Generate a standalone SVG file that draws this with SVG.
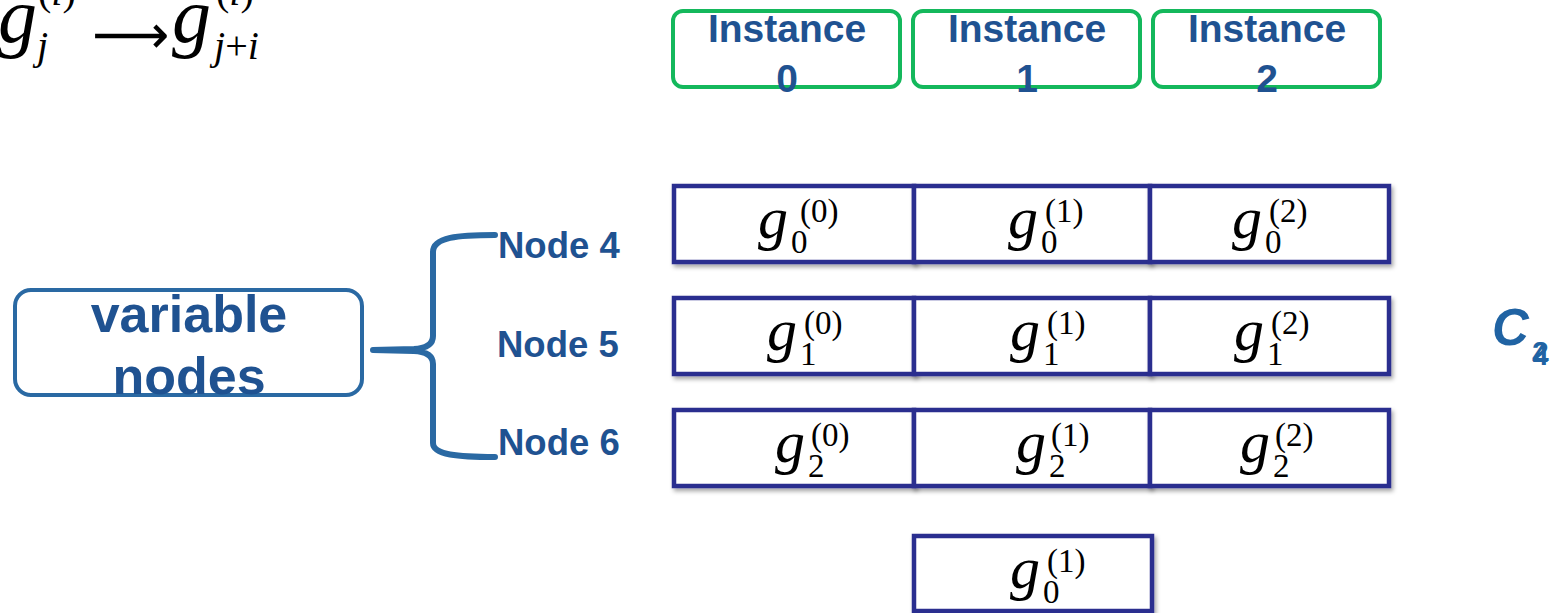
<svg xmlns="http://www.w3.org/2000/svg" width="1559" height="613" viewBox="0 0 1559 613">
  <defs>
    <filter id="shadow" x="-5%" y="-10%" width="110%" height="130%">
      <feDropShadow dx="2" dy="3" stdDeviation="2" flood-color="#000" flood-opacity="0.35"/>
    </filter>
    <style>
      .inst { fill: #fff; stroke: #14b85c; stroke-width: 4; }
      .cell { fill: #fff; stroke: #2c2e8f; stroke-width: 4.5; }
      .lbl { font-family: "Liberation Sans", Arial, sans-serif; font-weight: bold; fill: #1f5291; }
      .math { font-family: "Liberation Serif", "Times New Roman", serif; fill: #000; }
      .g { font-style: italic; font-size: 60px; }
      .idx { font-size: 33px; }
      .brace { fill: none; stroke: #2a69a3; stroke-width: 6; stroke-linecap: round; stroke-linejoin: round; }
    </style>
  </defs>
  <rect width="1559" height="613" fill="#fff"/>

  <!-- index shift rule -->
  <g id="rule" class="math">
    <text x="-2" y="42" class="g" style="font-size:78px">g</text>
    <text x="38" y="5" class="idx" style="font-size:40px">(<tspan font-style="italic">i</tspan>)</text>
    <text x="37" y="59" class="idx" font-style="italic" style="font-size:40px">j</text>
    <text x="92" y="53" style="font-family:'DejaVu Sans',sans-serif;font-size:54px">⟶</text>
    <text x="172" y="42" class="g" style="font-size:78px">g</text>
    <text x="216" y="5" class="idx" style="font-size:40px">(<tspan font-style="italic">i</tspan>)</text>
    <text x="214" y="59" class="idx" style="font-size:40px"><tspan font-style="italic">j</tspan>+<tspan font-style="italic">i</tspan></text>
  </g>

  <!-- instance headers -->
  <g id="instance-0">
    <rect class="inst" x="673" y="11" width="227" height="76" rx="10"/>
    <text class="lbl" x="787" y="42" font-size="39" text-anchor="middle">Instance</text>
    <text class="lbl" x="787" y="92" font-size="39" text-anchor="middle">0</text>
  </g>
  <g id="instance-1">
    <rect class="inst" x="913" y="11" width="227" height="76" rx="10"/>
    <text class="lbl" x="1027" y="42" font-size="39" text-anchor="middle">Instance</text>
    <text class="lbl" x="1027" y="92" font-size="39" text-anchor="middle">1</text>
  </g>
  <g id="instance-2">
    <rect class="inst" x="1153" y="11" width="227" height="76" rx="10"/>
    <text class="lbl" x="1267" y="42" font-size="39" text-anchor="middle">Instance</text>
    <text class="lbl" x="1267" y="92" font-size="39" text-anchor="middle">2</text>
  </g>

  <!-- variable nodes label -->
  <g id="variable-nodes">
    <rect x="15" y="290" width="347" height="105" rx="16" fill="#fff" stroke="#2a69a3" stroke-width="4"/>
    <text class="lbl" x="189" y="332" font-size="52" text-anchor="middle">variable</text>
    <text class="lbl" x="189" y="394" font-size="52" text-anchor="middle">nodes</text>
  </g>

  <!-- brace connecting the label to its nodes -->
  <g id="connectors">
    <path class="brace" d="M495,235 C458,235 433,237 433,252 L433,336 Q433,348 414,349 L373,350 M373,350 L414,351 Q433,352 433,364 L433,443 C433,455 458,457 495,457"/>
  </g>

  <g id="node-4"><text class="lbl" x="498" y="258" font-size="36.5">Node 4</text></g>
  <g id="node-5"><text class="lbl" x="497" y="357" font-size="36.5">Node 5</text></g>
  <g id="node-6"><text class="lbl" x="498" y="455" font-size="36.5">Node 6</text></g>

  <!-- row of variable node 4 -->
  <g id="cell-0-0" filter="url(#shadow)">
    <rect class="cell" x="674" y="186" width="240" height="76"/>
  </g>
  <g id="cell-0-1" filter="url(#shadow)">
    <rect class="cell" x="914" y="186" width="236" height="76"/>
  </g>
  <g id="cell-0-2" filter="url(#shadow)">
    <rect class="cell" x="1150" y="186" width="239" height="76"/>
  </g>
  <!-- row of variable node 5 -->
  <g id="cell-1-0" filter="url(#shadow)">
    <rect class="cell" x="674" y="298" width="240" height="76"/>
  </g>
  <g id="cell-1-1" filter="url(#shadow)">
    <rect class="cell" x="914" y="298" width="236" height="76"/>
  </g>
  <g id="cell-1-2" filter="url(#shadow)">
    <rect class="cell" x="1150" y="298" width="239" height="76"/>
  </g>
  <!-- row of variable node 6 -->
  <g id="cell-2-0" filter="url(#shadow)">
    <rect class="cell" x="674" y="410" width="240" height="76"/>
  </g>
  <g id="cell-2-1" filter="url(#shadow)">
    <rect class="cell" x="914" y="410" width="236" height="76"/>
  </g>
  <g id="cell-2-2" filter="url(#shadow)">
    <rect class="cell" x="1150" y="410" width="239" height="76"/>
  </g>
  <!-- shifted copy -->
  <g id="cell-shift" filter="url(#shadow)">
    <rect class="cell" x="914" y="536" width="238" height="75"/>
  </g>

  <!-- cell contents: g with subscript (position) and superscript (instance) -->
  <g id="cell-labels" class="math">
    <text x="758" y="238" class="g">g</text><text x="791" y="253" class="idx">0</text><text x="800" y="222" class="idx">(0)</text>
    <text x="1008" y="238" class="g">g</text><text x="1041" y="253" class="idx">0</text><text x="1045" y="222" class="idx">(1)</text>
    <text x="1232" y="238" class="g">g</text><text x="1265" y="253" class="idx">0</text><text x="1269" y="222" class="idx">(2)</text>

    <text x="767" y="350" class="g">g</text><text x="800" y="365" class="idx">1</text><text x="804" y="334" class="idx">(0)</text>
    <text x="1010" y="350" class="g">g</text><text x="1043" y="365" class="idx">1</text><text x="1047" y="334" class="idx">(1)</text>
    <text x="1234" y="350" class="g">g</text><text x="1267" y="365" class="idx">1</text><text x="1271" y="334" class="idx">(2)</text>

    <text x="775" y="462" class="g">g</text><text x="808" y="477" class="idx">2</text><text x="811" y="446" class="idx">(0)</text>
    <text x="1016" y="462" class="g">g</text><text x="1049" y="477" class="idx">2</text><text x="1051" y="446" class="idx">(1)</text>
    <text x="1240" y="462" class="g">g</text><text x="1273" y="477" class="idx">2</text><text x="1275" y="446" class="idx">(2)</text>

    <text x="1010" y="588" class="g">g</text><text x="1043" y="603" class="idx">0</text><text x="1047" y="572" class="idx">(1)</text>
  </g>

  <!-- code label -->
  <g id="code-label">
    <text class="lbl" x="1492" y="345" font-size="51" font-style="italic" style="fill:#2063a3">C</text>
    <text class="lbl" x="1532" y="362" font-size="30" style="fill:#2063a3">2</text>
    <text class="lbl" x="1532" y="365" font-size="30" style="fill:#2063a3">4</text>
  </g>
</svg>
